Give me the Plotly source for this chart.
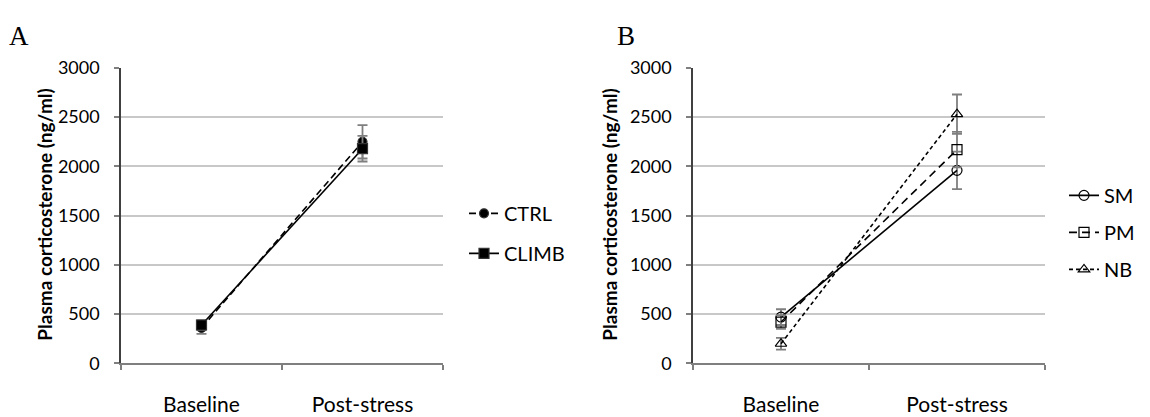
import plotly.graph_objects as go

categories = ["Baseline", "Post-stress"]

# Panel A
ctrl_vals = [360, 2250]
ctrl_err = [60, 170]
climb_vals = [390, 2180]
climb_err = [50, 130]

# Panel B
sm_vals = [470, 1960]
sm_err = [80, 190]
pm_vals = [420, 2170]
pm_err = [70, 180]
nb_vals = [200, 2530]
nb_err = [60, 200]

y_ticks = [0, 500, 1000, 1500, 2000, 2500, 3000]

W, H = 1150, 417
FONT = "Lato"
ERR_COL = "#7f7f7f"

fig = go.Figure()

def add(name, x_ax, y_ax, vals, err, dash, symbol, msize, legend, group):
    fig.add_trace(go.Scatter(
        x=categories, y=vals, name=name, mode="lines+markers",
        xaxis=x_ax, yaxis=y_ax, legend=legend, legendgroup=group,
        line=dict(color="black", width=1.6, dash=dash),
        marker=dict(symbol=symbol, size=msize, color="black",
                    line=dict(color="#333333", width=1.2)),
        error_y=dict(type="data", array=err, visible=True, color=ERR_COL,
                     thickness=1.8, width=5),
    ))

add("CTRL", "x", "y", ctrl_vals, ctrl_err, "7px,4px", "circle", 9, "legend", "a1")
add("CLIMB", "x", "y", climb_vals, climb_err, "solid", "square", 10, "legend", "a2")
add("SM", "x2", "y2", sm_vals, sm_err, "solid", "circle-open", 10, "legend2", "b1")
add("PM", "x2", "y2", pm_vals, pm_err, "8px,5px", "square-open", 10, "legend2", "b2")
add("NB", "x2", "y2", nb_vals, nb_err, "4px,3px", "triangle-up-open", 10, "legend2", "b3")

ytop, ybot = 59, 371
ydom = [1 - ybot / H, 1 - ytop / H]

def xaxis(l, r):
    return dict(domain=[l / W, r / W], type="category", range=[-0.5, 1.5],
                showline=True, linecolor="#7f7f7f", linewidth=1.5,
                ticks="outside", tickson="boundaries", ticklen=5, tickcolor="#7f7f7f",
                tickwidth=1.5, showgrid=False, ticklabelstandoff=22,
                tickfont=dict(family=FONT, size=21, color="black"), fixedrange=True)

def yaxis(anchor):
    return dict(domain=ydom, anchor=anchor, range=[0, 3000], tickvals=y_ticks,
                showline=True, linecolor="#404040", linewidth=1.5,
                ticks="outside", ticklen=5, tickcolor="#7f7f7f", tickwidth=1.5,
                showgrid=True, gridcolor="#c8c8c8", gridwidth=2.2, zeroline=False,
                ticklabelstandoff=11,
                tickfont=dict(family=FONT, size=18, color="black"))

fig.update_layout(
    width=W, height=H,
    margin=dict(l=0, r=0, t=0, b=0),
    paper_bgcolor="white", plot_bgcolor="white",
    xaxis=dict(xaxis(121, 443), anchor="y"),
    yaxis=yaxis("x"),
    xaxis2=dict(xaxis(693, 1045), anchor="y2"),
    yaxis2=yaxis("x2"),
    legend=dict(x=464 / W, y=1 - 192 / H, xanchor="left", yanchor="top",
                font=dict(family=FONT, size=20, color="black"),
                tracegroupgap=11, itemwidth=30, bgcolor="rgba(0,0,0,0)"),
    legend2=dict(x=1064 / W, y=1 - 173 / H, xanchor="left", yanchor="top",
                 font=dict(family=FONT, size=20, color="black"),
                 tracegroupgap=8, itemwidth=30, bgcolor="rgba(0,0,0,0)"),
    annotations=[
        dict(text="A", x=7 / W, y=1 - 25 / H, xref="paper", yref="paper",
             xanchor="left", yanchor="middle", showarrow=False,
             font=dict(family="Liberation Serif", size=27, color="black")),
        dict(text="B", x=615 / W, y=1 - 25 / H, xref="paper", yref="paper",
             xanchor="left", yanchor="middle", showarrow=False,
             font=dict(family="Liberation Serif", size=27, color="black")),
        dict(text="<b>Plasma corticosterone (ng/ml)</b>", x=45 / W, y=1 - 214 / H,
             xref="paper", yref="paper", textangle=-90, showarrow=False,
             xanchor="center", yanchor="middle",
             font=dict(family=FONT, size=19, color="black")),
        dict(text="<b>Plasma corticosterone (ng/ml)</b>", x=610 / W, y=1 - 214 / H,
             xref="paper", yref="paper", textangle=-90, showarrow=False,
             xanchor="center", yanchor="middle",
             font=dict(family=FONT, size=19, color="black")),
    ],
)

fig.write_html("out.html")
